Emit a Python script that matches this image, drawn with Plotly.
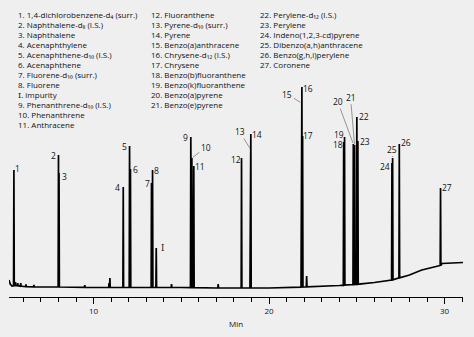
import numpy as np
import plotly.graph_objects as go

# ---------------- data ----------------
peak_labels = ["1", "2", "3", "4", "5", "6", "7", "8", "I", "9", "10", "11",
               "12", "13", "14", "15", "16", "17", "18", "19", "20", "21",
               "22", "23", "24", "25", "26", "27"]
peak_times = [5.46, 8.00, 8.03, 11.69, 12.05, 12.10, 13.30, 13.36, 13.57, 15.54, 15.60, 15.71,
              18.43, 18.93, 18.96, 21.84, 21.87, 21.91, 24.25, 24.30, 24.80, 24.87,
              25.00, 25.06, 27.00, 27.04, 27.42, 29.77]
peak_heights = [127, 142, 124, 110, 151, 128, 114, 127, 49, 160, 139, 131,
                139, 148, 163, 194, 210, 161, 155, 160, 153, 152,
                180, 156, 134, 139, 153, 109]

minor_times = [5.55, 5.68, 5.85, 6.15, 6.6, 9.5, 10.88, 10.93, 14.44, 17.1, 22.14]
minor_heights = [15, 14, 14, 12.5, 12, 12, 14, 19, 13, 13, 21]

baseline_times = [5.18, 5.25, 5.35, 5.6, 6.0, 7.0, 8.0, 10.0, 12.0, 15.0, 17.0, 20.0,
                  22.0, 24.0, 25.0, 26.0, 27.0, 28.0, 28.7, 29.75, 29.85, 31.05]
baseline_values = [17, 13, 11, 11.5, 10.5, 10, 10, 9.5, 9.5, 9.5, 9, 9,
                   10, 11.5, 12.7, 14.5, 17, 22, 27, 31, 33.5, 34.5]

legend_col1 = ["1. 1,4-dichlorobenzene-d₄ (surr.)", "2. Naphthalene-d₈ (I.S.)",
               "3. Naphthalene", "4. Acenaphthylene", "5. Acenaphthene-d₁₀ (I.S.)",
               "6. Acenaphthene", "7. Fluorene-d₁₀ (surr.)", "8. Fluorene",
               "<span style=\"font-family:DejaVu Serif\">I</span>. impurity",
               "9. Phenanthrene-d₁₀ (I.S.)", "10. Phenanthrene", "11. Anthracene"]
legend_col2 = ["12. Fluoranthene", "13. Pyrene-d₁₀ (surr.)", "14. Pyrene",
               "15. Benzo(a)anthracene", "16. Chrysene-d₁₂ (I.S.)", "17. Chrysene",
               "18. Benzo(b)fluoranthene", "19. Benzo(k)fluoranthene", "20. Benzo(a)pyrene",
               "21. Benzo(e)pyrene"]
legend_col3 = ["22. Perylene-d₁₂ (I.S.)", "23. Perylene", "24. Indeno(1,2,3-cd)pyrene",
               "25. Dibenzo(a,h)anthracene", "26. Benzo(g,h,i)perylene", "27. Coronene"]

tick_values = [10, 20, 30]
tick_text = ["10", "20", "30"]
x_title = "Min"

# ---------------- styling / layout ----------------
W, H = 474, 337
ML, MR, MT, MB = 9, 11, 0, 40
BG = "#efefef"
TXT = "#111111"
FONT = "Open Sans"

# label offsets (pixels): (dx, dy_up) for plain labels, or ("arrow", ax, ay)
label_style = {
    "1": (3.5, 2), "2": (-4.7, 0), "3": (5, -3), "4": (-5.3, 0), "5": (-5, 0),
    "6": (5.3, 0), "7": (-4.4, 0), "8": (4.3, 0), "I": (6, 0), "9": (-5, 0),
    "10": ("arrow", 14, -10.6), "11": (6.3, 0), "12": (-5.7, -1.6),
    "13": ("arrow", -10.7, -17.6), "14": (6, 0), "15": ("arrow", -14, -9),
    "16": (5.7, -1.6), "17": (5.6, 1), "18": (-6, -2.6), "19": (-5.4, 2.4),
    "20": ("arrow", -15.6, -42.3), "21": ("arrow", -4, -47.7), "22": (7, 1),
    "23": (7.3, 0), "24": (-7, -3), "25": ("arrow", -0.4, -9), "26": (6.7, 1.7),
    "27": (6.6, 1),
}

# ---------------- build trace ----------------
hw = 0.02
pts = []
for t, h in list(zip(peak_times, peak_heights)) + list(zip(minor_times, minor_heights)):
    b = float(np.interp(t, baseline_times, baseline_values))
    pts += [(t - hw, b), (t, h), (t + hw, b)]
for t, v in zip(baseline_times, baseline_values):
    pts.append((t, v))
pts.sort(key=lambda p: p[0])
xs = [p[0] for p in pts]
ys = [p[1] for p in pts]

fig = go.Figure()
fig.add_trace(go.Scatter(x=xs, y=ys, mode="lines",
                         line=dict(color="#000000", width=1.7),
                         hoverinfo="skip", showlegend=False))

annotations = []
for lab, t, h in zip(peak_labels, peak_times, peak_heights):
    st = label_style[lab]
    txt = lab
    font = dict(family=FONT, size=8.5, color=TXT)
    if lab == "I":
        font = dict(family="DejaVu Serif", size=8.5, color=TXT)
    if st[0] == "arrow":
        annotations.append(dict(x=t, y=h, xref="x", yref="y", text=txt, font=font,
                                showarrow=True, arrowhead=0, arrowwidth=0.6,
                                arrowcolor="#555555", ax=st[1], ay=st[2], standoff=1,
                                xanchor="center", yanchor="middle"))
    else:
        annotations.append(dict(x=t, y=h, xref="x", yref="y", text=txt, font=font,
                                showarrow=False, xshift=st[0], yshift=st[1],
                                xanchor="center", yanchor="middle"))

pw = W - ML - MR
ph = H - MT - MB


def paper_pt(px, py):
    return (px - ML) / pw, (H - MB - py) / ph


row_gap = 9.92
for col, x0 in ((legend_col1, 16), (legend_col2, 149), (legend_col3, 258)):
    for i, s in enumerate(col):
        xp, yp = paper_pt(x0, 15 + i * row_gap)
        annotations.append(dict(x=xp, y=yp, xref="paper", yref="paper", text=s,
                                showarrow=False, xanchor="left", yanchor="middle",
                                font=dict(family=FONT, size=8, color=TXT)))

fig.update_layout(
    width=W, height=H,
    margin=dict(l=ML, r=MR, t=MT, b=MB, pad=0),
    paper_bgcolor=BG, plot_bgcolor=BG,
    showlegend=False,
    annotations=annotations,
    xaxis=dict(range=[5.18, 31.05], showgrid=False, zeroline=False,
               showline=True, linecolor="#000000", linewidth=1,
               ticks="outside", ticklen=6, tickwidth=1, tickcolor="#000000",
               tickvals=tick_values, ticktext=tick_text,
               tickfont=dict(family=FONT, size=8, color=TXT),
               minor=dict(dtick=1, tick0=0, ticks="outside", ticklen=4,
                          tickwidth=1, tickcolor="#000000", showgrid=False),
               title=dict(text=x_title, font=dict(family=FONT, size=8, color=TXT), standoff=6),
               automargin=False, fixedrange=True),
    yaxis=dict(range=[0, 297], visible=False, fixedrange=True, automargin=False),
)

fig.write_html("out.html")
